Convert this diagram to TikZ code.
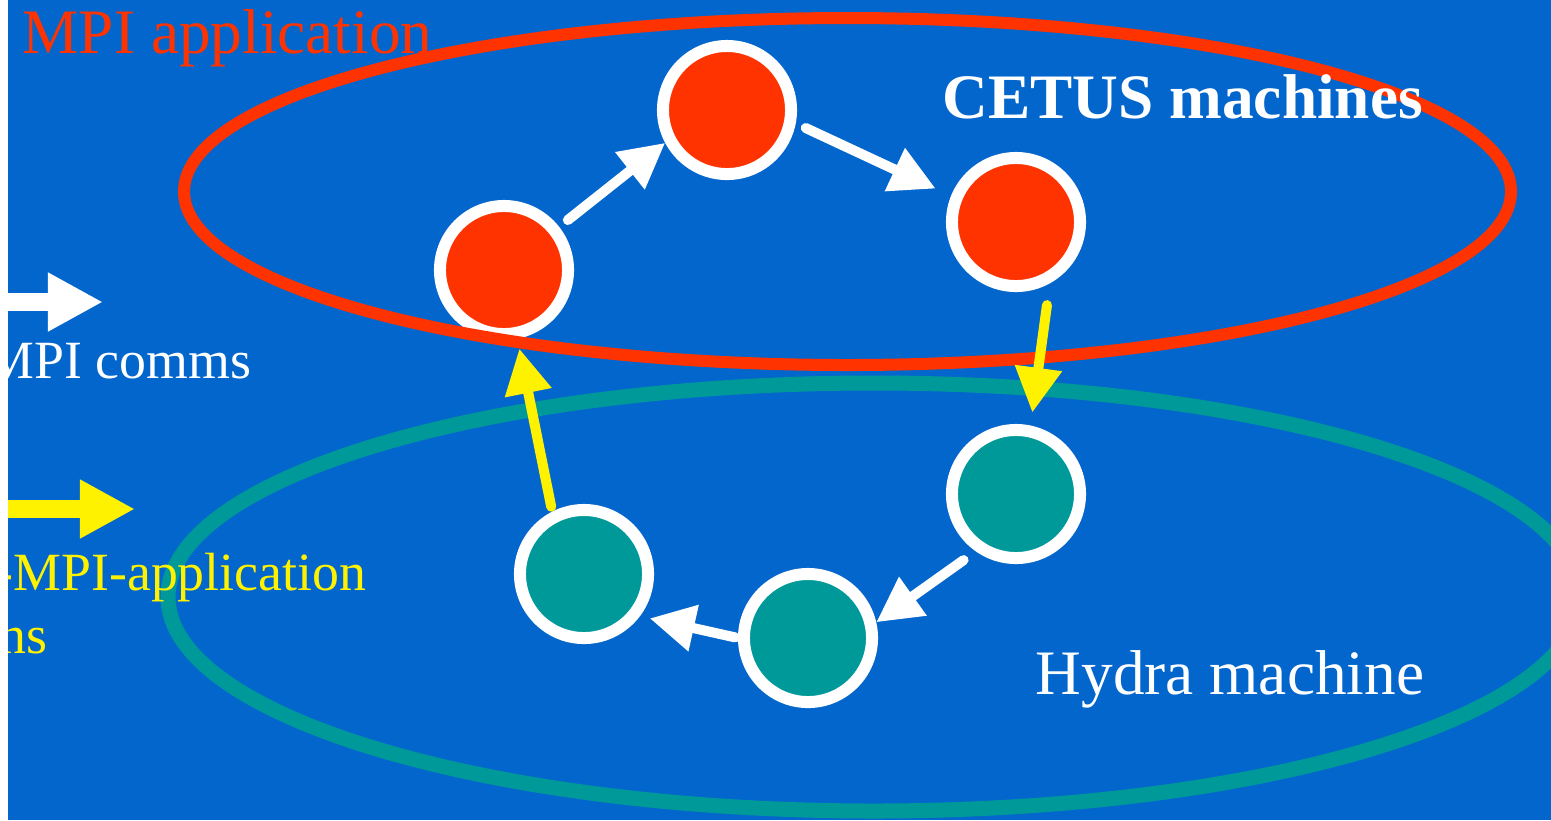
\documentclass[tikz,border=0pt]{standalone}
\usepackage{fontspec}
\setmainfont{Liberation Serif}
\usetikzlibrary{arrows.meta}
\definecolor{slide}{RGB}{3,102,204}
\definecolor{cetusred}{RGB}{255,51,0}
\definecolor{hydrateal}{RGB}{0,153,153}
\tikzset{proc/.style={circle,draw=white,line width=0.12cm,minimum size=1.28cm,
        inner sep=0pt,outer sep=0.06cm},
    cetus/.style={proc,fill=cetusred},
    hydra/.style={proc,fill=hydrateal},
    comm/.style={draw=white,line width=0.1cm,line cap=round,
        -{Triangle[length=0.45cm,width=0.45cm]}},
    xcomm/.style={comm,draw=yellow},
    group/.style={line width=0.13cm},
    txt/.style={anchor=base west,inner sep=0pt,font=\fontsize{18pt}{21pt}\selectfont},
    lgd/.style={txt,font=\fontsize{15.3pt}{18pt}\selectfont},
    lgdarrow/.style={line width=0.18cm,-{Triangle[length=0.55cm,width=0.55cm]}}}

\begin{document}
\begin{tikzpicture}[x=0.01cm,y=-0.01cm]
    \useasboundingbox (0,0) rectangle (1551,820);
    \fill[white] (0,0) rectangle (1551,820);
    \begin{scope}
    \clip (8,0) rectangle (1551,820);
    \fill[slide] (8,0) rectangle (1551,820);
    % machines
    \draw[group,hydrateal,line width=0.15cm] (874,597) ellipse [x radius=706,y radius=214];
    \node[cetus] (p1) at (504,270) {};
    \node[cetus] (p2) at (727,110) {};
    \node[cetus] (p3) at (1016,222) {};
    \node[hydra] (p4) at (1016,494) {};
    \node[hydra] (p5) at (808,638) {};
    \node[hydra] (p6) at (584,574) {};
    \draw[group,cetusred,line width=0.12cm] (847.5,191.5) ellipse [x radius=663.5,y radius=173.5];
    % ring of messages
    \draw[comm,shorten <=0.11cm] (p1.38) -- (p2.-152);
    \draw[comm,shorten <=0.11cm,shorten >=0.17cm] (p2.-11) -- (p3.158);
    \draw[xcomm,shorten <=0.22cm,shorten >=0.13cm] (p3.-61) -- (p4.78);
    \draw[comm,shorten <=0.15cm] (p4.-125) -- (p5.13);
    \draw[comm,shorten <=0.03cm,shorten >=0.1cm] (p5.180) -- (p6.-37);
    \draw[xcomm,shorten <=0.05cm,shorten >=0.1cm] (p6.117) -- (p1.-79);
    % legend
    \coordinate (wtail) at (0,302);
    \coordinate (whead) at (103,302);
    \coordinate (ytail) at (0,509);
    \coordinate (yhead) at (135,509);
    \draw[lgdarrow,white] (wtail) -- (whead);
    \draw[lgdarrow,yellow] (ytail) -- (yhead);
    \node[lgd,white] (mpicomms) at (-14,378) {MPI comms};
    \node[lgd,yellow] (appcomms) at (-5,590) {-MPI-application};
    \node[lgd,yellow] (appcomms2) at (-1,653) {ns};
    % titles
    \node[txt,cetusred] (mpiapp) at (22,53) {MPI application};
    \node[txt,white,font=\fontsize{18pt}{21pt}\selectfont\bfseries] (cetusname) at (942,118) {CETUS machines};
    \node[txt,white] (hydraname) at (1035,694) {Hydra machine};
    \end{scope}
\end{tikzpicture}
\end{document}
